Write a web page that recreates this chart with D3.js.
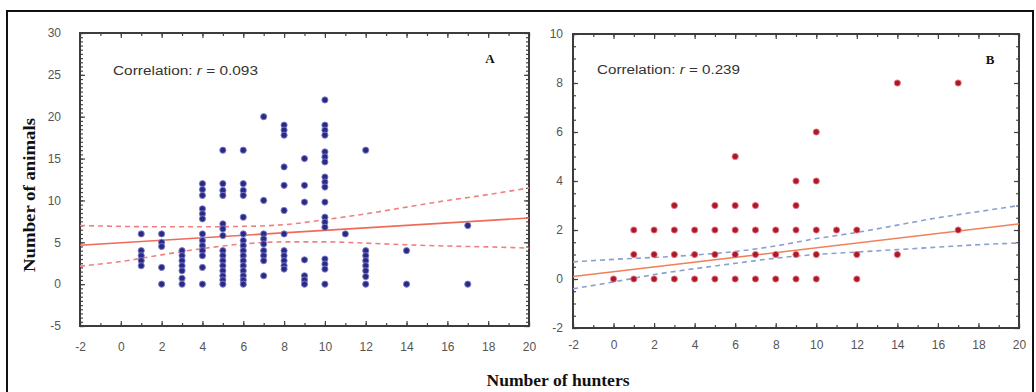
<!DOCTYPE html>
<html>
<head>
<meta charset="utf-8">
<script src="https://cdn.jsdelivr.net/npm/d3@7"></script>
<style>
    body { margin: 0; background: #fff; }
    svg { display: block; font-family: "Liberation Sans", Arial, sans-serif; }
    .axis-scale path { display: none; }
    .axis-scale line { stroke: #444; stroke-width: 1.2; }
    .axis-scale text { fill: #555; font-size: 12px; font-family: "Liberation Sans", Arial, sans-serif; }
    .title { font-family: "Liberation Serif", "Times New Roman", serif; font-weight: bold; fill: #111; }
</style>
</head>
<body>
<div id="chart-container"></div>
<script>
// tick labels
const HUNTER_TICKS = [-2, 0, 2, 4, 6, 8, 10, 12, 14, 16, 18, 20];
const ANIMAL_TICKS_A = [-5, 0, 5, 10, 15, 20, 25, 30];
const ANIMAL_TICKS_B = [-2, 0, 2, 4, 6, 8, 10];

// panel A: number of hunters and the animals seen for each
const HUNTERS_A = [1, 2, 3, 4, 5, 6, 7, 8, 9, 10, 11, 12, 14, 17];
const ANIMALS_A = [
    [6, 4, 3.4, 2.8, 2.2],
    [6, 5, 4.5, 2, 0],
    [4, 3.4, 2.8, 2.2, 1.6, 0.7, 0],
    [12, 11.3, 10.6, 9, 8.4, 7.8, 6, 5.2, 4.6, 4, 3.4, 2, 0],
    [16, 12, 11.2, 10.6, 7.2, 6.6, 5.8, 4, 3.4, 2.8, 2.2, 1.6, 1, 0.5, 0],
    [16, 12, 11.2, 10.6, 8, 6, 5.2, 4.6, 4, 3.4, 2.8, 2.2, 1.6, 1, 0.5, 0],
    [20, 10, 6, 5.4, 4.8, 4, 3.4, 2.8, 1],
    [19, 18.4, 17.8, 14, 11.8, 8.8, 6, 4, 3.4, 2.8, 2.2, 1.8],
    [15, 11.8, 9.8, 2.9, 1, 0.5, 0],
    [22, 19, 18.4, 17.8, 15.8, 15.2, 14.6, 12.8, 12.2, 11.6, 9.8, 8, 7.4, 6.8, 3, 2.4, 1.8, 0],
    [6],
    [16, 4, 3.4, 2.8, 2.2, 1.6, 0.9, 0],
    [4, 0],
    [7, 0],
];

// panel B: number of hunters and the animals seen for each
const HUNTERS_B = [0, 1, 2, 3, 4, 5, 6, 7, 8, 9, 10, 11, 12, 14, 17];
const ANIMALS_B = [
    [0],
    [2, 1, 0],
    [2, 1, 0],
    [3, 2, 1, 0],
    [2, 1, 0],
    [3, 2, 1, 0],
    [5, 3, 2, 1, 0],
    [3, 2, 1, 0],
    [2, 1, 0],
    [4, 3, 2, 1, 0],
    [6, 4, 2, 1, 0],
    [2],
    [2, 1, 0],
    [8, 1],
    [8, 2],
];

// regression lines and confidence bands
const FIT_X = [-2, 20];
const FIT_A = [4.65, 7.9];
const FIT_B = [0.1, 2.25];
const BAND_X = [-2, 0, 2, 4, 6, 8, 10, 12, 14, 16, 18, 20];
const UPPER_A = [7.0, 6.9, 6.85, 6.85, 6.9, 7.1, 7.7, 8.4, 9.2, 10.0, 10.7, 11.5];
const LOWER_A = [2.15, 2.7, 3.5, 4.25, 4.8, 5.05, 5.05, 4.9, 4.7, 4.55, 4.45, 4.3];
const UPPER_B = [0.7, 0.8, 0.88, 0.98, 1.12, 1.35, 1.65, 1.9, 2.2, 2.5, 2.75, 3.0];
const LOWER_B = [-0.4, -0.12, 0.18, 0.42, 0.64, 0.85, 1.0, 1.1, 1.2, 1.3, 1.4, 1.47];

// appending svg tag for chart
const svg = d3.select("#chart-container")
    .append("svg")
    .attr("width", 1036)
    .attr("height", 392);

// outer frame
svg.append("rect")
    .attr("x", 7)
    .attr("y", 11)
    .attr("width", 1026)
    .attr("height", 400)
    .attr("fill", "none")
    .attr("stroke", "#111")
    .attr("stroke-width", 2);

function drawPanel(p) {
    const chart = svg.append("g")
        .attr("transform", `translate(${p.left},${p.top})`);

    // scales
    const x = d3.scaleLinear().domain([-2, 20]).range([0, p.width]);
    const y = d3.scaleLinear().domain([p.yTicks[0], p.yTicks[p.yTicks.length - 1]]).range([p.height, 0]);

    const minorX = d3.range(-2, 20.01, 1);
    const minorY = d3.range(p.yTicks[0], p.yTicks[p.yTicks.length - 1] + 0.01, 0.5);
    const label = (d) => String(d);

    // bottom scale with labels
    chart.append("g")
        .attr("class", "axis-scale")
        .attr("transform", `translate(0,${p.height})`)
        .call(d3.axisBottom(x).tickValues(HUNTER_TICKS).tickSizeInner(-5).tickSizeOuter(0)
            .tickPadding(p.xPad).tickFormat(label));
    chart.append("g")
        .attr("class", "axis-scale")
        .attr("transform", `translate(0,${p.height})`)
        .call(d3.axisBottom(x).tickValues(minorX).tickSize(-3).tickFormat(""));

    // top scale
    chart.append("g")
        .attr("class", "axis-scale")
        .call(d3.axisTop(x).tickValues(HUNTER_TICKS).tickSize(-5).tickFormat(""));
    chart.append("g")
        .attr("class", "axis-scale")
        .call(d3.axisTop(x).tickValues(minorX).tickSize(-3).tickFormat(""));

    // left scale with labels
    chart.append("g")
        .attr("class", "axis-scale")
        .call(d3.axisLeft(y).tickValues(p.yTicks).tickSizeInner(-5).tickSizeOuter(0)
            .tickPadding(p.yPad).tickFormat(label));
    chart.append("g")
        .attr("class", "axis-scale")
        .call(d3.axisLeft(y).tickValues(minorY).tickSize(-3).tickFormat(""));

    // right scale
    chart.append("g")
        .attr("class", "axis-scale")
        .attr("transform", `translate(${p.width},0)`)
        .call(d3.axisRight(y).tickValues(p.yTicks).tickSize(-5).tickFormat(""));
    chart.append("g")
        .attr("class", "axis-scale")
        .attr("transform", `translate(${p.width},0)`)
        .call(d3.axisRight(y).tickValues(minorY).tickSize(-3).tickFormat(""));

    // plot box
    chart.append("rect")
        .attr("width", p.width)
        .attr("height", p.height)
        .attr("fill", "none")
        .attr("stroke", "#3c3c3c")
        .attr("stroke-width", 2);

    const line = d3.line()
        .x((d) => x(d[0]))
        .y((d) => y(d[1]))
        .curve(d3.curveMonotoneX);

    // confidence bands
    [p.upper, p.lower].forEach((band) => {
        chart.append("path")
            .datum(BAND_X.map((v, i) => [v, band[i]]))
            .attr("d", line)
            .attr("fill", "none")
            .attr("stroke", p.bandColor)
            .attr("stroke-width", 1.6)
            .attr("stroke-dasharray", "5,4");
    });

    // regression line
    chart.append("path")
        .datum(FIT_X.map((v, i) => [v, p.fit[i]]))
        .attr("d", line)
        .attr("fill", "none")
        .attr("stroke", p.fitColor)
        .attr("stroke-width", 1.6);

    // show points
    const points = p.hunters.flatMap((h, i) => p.animals[i].map((a) => ({ hunters: h, animals: a })));
    chart.selectAll(null)
        .data(points)
        .enter()
        .append("circle")
        .attr("cx", (d) => x(d.hunters))
        .attr("cy", (d) => y(d.animals))
        .attr("r", 3.1)
        .attr("fill", p.dotColor)
        .attr("stroke", p.dotHalo)
        .attr("stroke-width", 0.9);

    // correlation text
    const corr = chart.append("text")
        .attr("x", p.corrX)
        .attr("y", p.corrY)
        .attr("font-size", "12px")
        .attr("fill", "#333")
        .attr("textLength", p.corrLength)
        .attr("lengthAdjust", "spacingAndGlyphs");
    corr.append("tspan").text("Correlation: ");
    corr.append("tspan").attr("font-style", "italic").text("r");
    corr.append("tspan").text(" = " + p.corr);

    // panel letter
    chart.append("text")
        .attr("class", "title")
        .attr("x", p.letterX)
        .attr("y", 30)
        .attr("text-anchor", "middle")
        .attr("font-size", "13px")
        .text(p.letter);
}

drawPanel({
    left: 80, top: 33, width: 449, height: 293,
    yTicks: ANIMAL_TICKS_A, xPad: 16, yPad: 19,
    hunters: HUNTERS_A, animals: ANIMALS_A,
    fit: FIT_A, upper: UPPER_A, lower: LOWER_A,
    fitColor: "#f06a5a", bandColor: "#f08080",
    dotColor: "#2a2a86", dotHalo: "#8080c8",
    corr: "0.093", corrX: 33, corrY: 42, corrLength: 145,
    letter: "A", letterX: 410,
});

drawPanel({
    left: 573, top: 34, width: 446, height: 294,
    yTicks: ANIMAL_TICKS_B, xPad: 12, yPad: 10,
    hunters: HUNTERS_B, animals: ANIMALS_B,
    fit: FIT_B, upper: UPPER_B, lower: LOWER_B,
    fitColor: "#f0805a", bandColor: "#8aa0d0",
    dotColor: "#a81a2a", dotHalo: "#f07080",
    corr: "0.239", corrX: 24, corrY: 40, corrLength: 143,
    letter: "B", letterX: 417,
});

// y axis title
svg.append("text")
    .attr("class", "title")
    .attr("transform", "translate(35,195) rotate(-90)")
    .attr("text-anchor", "middle")
    .attr("font-size", "16px")
    .attr("textLength", 154)
    .attr("lengthAdjust", "spacingAndGlyphs")
    .text("Number of animals");

// x axis title
svg.append("text")
    .attr("class", "title")
    .attr("x", 558)
    .attr("y", 386)
    .attr("text-anchor", "middle")
    .attr("font-size", "16px")
    .attr("textLength", 143)
    .attr("lengthAdjust", "spacingAndGlyphs")
    .text("Number of hunters");
</script>
</body>
</html>
